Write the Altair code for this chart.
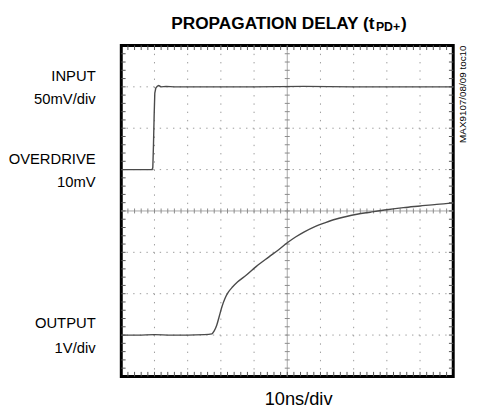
import altair as alt
import pandas as pd

# ---- data (in screen divisions: x 0..10 @ 10ns/div, y 0..8) ----
input_x = [0.0, 0.5, 0.93, 0.95, 0.97, 0.99, 1.01, 1.04, 1.09, 1.13, 1.2, 1.35, 1.6, 2.5, 4.0, 5.5, 7.0, 8.5, 10.0]
input_y = [5.0, 5.0, 5.0, 5.05, 5.6, 6.3, 6.85, 6.97, 7.02, 7.03, 7.0, 7.01, 7.0, 7.0, 7.0, 7.01, 7.0, 7.0, 7.0]

output_x = [0.0, 0.5, 1.0, 1.5, 2.0, 2.5, 2.73, 2.80, 2.88, 2.95, 3.03, 3.12, 3.22, 3.35, 3.5, 3.77, 4.07,
            4.45, 4.75, 5.0, 5.25, 5.5, 5.85, 6.15, 6.45, 6.75, 7.1, 7.5, 8.0, 8.5, 9.0, 9.5, 10.0]
output_y = [1.0, 1.0, 1.01, 1.0, 1.0, 1.01, 1.03, 1.10, 1.25, 1.45, 1.68, 1.88, 2.03, 2.16, 2.28, 2.45, 2.66,
            2.89, 3.07, 3.23, 3.37, 3.49, 3.63, 3.72, 3.80, 3.86, 3.92, 3.97, 4.03, 4.08, 4.12, 4.16, 4.19]

grid_x = [1, 2, 3, 4, 6, 7, 8, 9]
grid_y = [1, 2, 3, 5, 6, 7]
minor_x = [i / 5 for i in range(1, 50)]
minor_y = [i / 5 for i in range(1, 40)]

W, H = 337, 336
FONT = "Liberation Sans, Arial, sans-serif"

xs = alt.Scale(domain=[0, 10], nice=False, zero=False)
ys = alt.Scale(domain=[0, 8], nice=False, zero=False)

def X(f="x"):
    return alt.X(f"{f}:Q", scale=xs, axis=None)

def Y(f="y"):
    return alt.Y(f"{f}:Q", scale=ys, axis=None)

GRID = "#9a9a9a"

hgrid = alt.Chart(pd.DataFrame({"y": grid_y})).mark_rule(
    color=GRID, strokeWidth=1, strokeDash=[1.4, 5.34]).encode(y=Y())
vgrid = alt.Chart(pd.DataFrame({"x": grid_x})).mark_rule(
    color=GRID, strokeWidth=1, strokeDash=[1.4, 7.0]).encode(x=X())

hcenter = alt.Chart(pd.DataFrame({"y": [4]})).mark_rule(color="#a8a8a8", strokeWidth=1).encode(y=Y())
vcenter = alt.Chart(pd.DataFrame({"x": [5]})).mark_rule(color="#a8a8a8", strokeWidth=1).encode(x=X())

# minor ticks on centre lines
tx = pd.DataFrame({"x": minor_x, "y": [4 - 0.06] * len(minor_x), "y2": [4 + 0.06] * len(minor_x)})
ty = pd.DataFrame({"y": minor_y, "x": [5 - 0.075] * len(minor_y), "x2": [5 + 0.075] * len(minor_y)})
ctick_x = alt.Chart(tx).mark_rule(color="#8a8a8a", strokeWidth=1).encode(x=X(), y=Y(), y2="y2:Q")
ctick_y = alt.Chart(ty).mark_rule(color="#8a8a8a", strokeWidth=1).encode(y=Y(), x=X(), x2="x2:Q")

# minor ticks on frame edges
bx = pd.DataFrame({"x": minor_x, "y": [0] * len(minor_x), "y2": [0.11] * len(minor_x)})
tx2 = pd.DataFrame({"x": minor_x, "y": [8 - 0.11] * len(minor_x), "y2": [8] * len(minor_x)})
lx = pd.DataFrame({"y": minor_y, "x": [0] * len(minor_y), "x2": [0.13] * len(minor_y)})
rx = pd.DataFrame({"y": minor_y, "x": [10 - 0.13] * len(minor_y), "x2": [10] * len(minor_y)})
etick_b = alt.Chart(bx).mark_rule(color="#555", strokeWidth=1).encode(x=X(), y=Y(), y2="y2:Q")
etick_t = alt.Chart(tx2).mark_rule(color="#555", strokeWidth=1).encode(x=X(), y=Y(), y2="y2:Q")
etick_l = alt.Chart(lx).mark_rule(color="#555", strokeWidth=1).encode(y=Y(), x=X(), x2="x2:Q")
etick_r = alt.Chart(rx).mark_rule(color="#555", strokeWidth=1).encode(y=Y(), x=X(), x2="x2:Q")

TRACE = "#4a4a4a"
in_line = alt.Chart(pd.DataFrame({"x": input_x, "y": input_y})).mark_line(
    color=TRACE, strokeWidth=1.4, interpolate="linear").encode(x=X(), y=Y(), order="x:Q")
out_line = alt.Chart(pd.DataFrame({"x": output_x, "y": output_y})).mark_line(
    color=TRACE, strokeWidth=1.4, interpolate="monotone").encode(x=X(), y=Y(), order="x:Q")

one = pd.DataFrame({"a": [0]})

def label(txt, x, y, size=15, align="right", baseline="middle", weight="normal", angle=0, color="black"):
    kw = dict(text=txt, font=FONT, fontSize=size, align=align, baseline=baseline,
              fontWeight=weight, color=color)
    if angle:
        kw["angle"] = angle
    return alt.Chart(one).mark_text(**kw).encode(x=alt.value(x), y=alt.value(y))

texts = [
    label("INPUT", -26, 31),
    label("50mV/div", -26, 54),
    label("OVERDRIVE", -26, 115),
    label("10mV", -26, 139),
    label("OUTPUT", -26, 282),
    label("1V/div", -26, 307),
    label("10ns/div", 180, 365, size=18.5, align="center", baseline="alphabetic"),
    label("PROPAGATION DELAY (t", 257, -16.5, size=17.5, align="right", baseline="alphabetic", weight="bold"),
    label("PD+", 258.5, -15, size=12.5, align="left", baseline="alphabetic", weight="bold"),
    label(")", 284, -16.5, size=17.5, align="left", baseline="alphabetic", weight="bold"),
    label("MAX9107/08/09 toc10", 347, 0, size=10, align="right", baseline="middle", angle=270),
]

chart = alt.layer(
    hgrid, vgrid, hcenter, vcenter, ctick_x, ctick_y,
    etick_b, etick_t, etick_l, etick_r,
    in_line, out_line, *texts
).properties(
    width=W, height=H,
    autosize=alt.AutoSizeParams(type="none"),
    padding={"left": 115, "top": 35, "right": 16, "bottom": 29},
).configure_view(stroke="black", strokeWidth=3)

chart.save("out.html", embed_options={"renderer": "svg", "actions": False})
